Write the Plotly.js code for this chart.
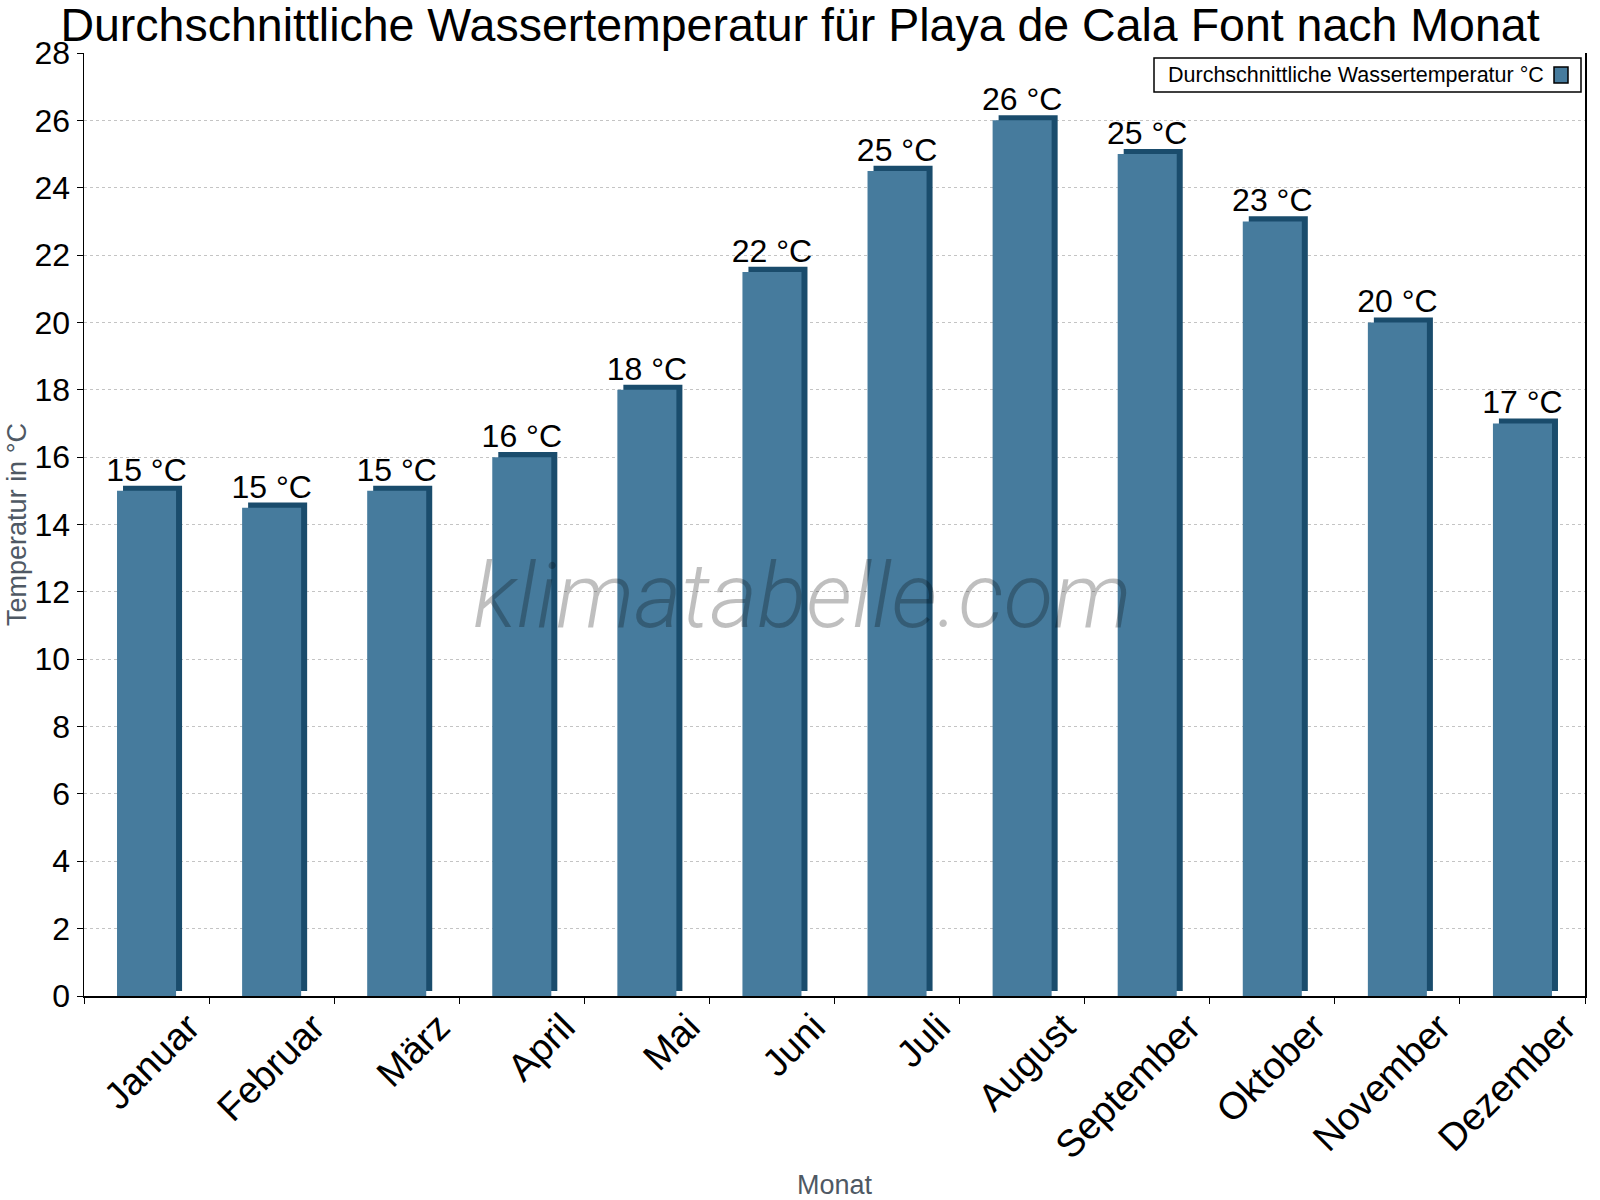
<!DOCTYPE html>
<html>
<head>
<meta charset="utf-8">
<script src="https://cdn.plot.ly/plotly-3.0.1.min.js"></script>
<style>html,body{margin:0;padding:0;background:#fff;}#chart{width:1600px;height:1200px;}</style>
</head>
<body>
<div id="chart"></div>
<script>
const months = ["Januar","Februar","März","April","Mai","Juni","Juli","August","September","Oktober","November","Dezember"];
const waterTemp = [15, 14.5, 15, 16, 18, 21.5, 24.5, 26, 25, 23, 20, 17];
const valueLabels = ["15 °C","15 °C","15 °C","16 °C","18 °C","22 °C","25 °C","26 °C","25 °C","23 °C","20 °C","17 °C"];
const seriesName = "Durchschnittliche Wassertemperatur °C";
const titleText = "Durchschnittliche Wassertemperatur für Playa de Cala Font nach Monat";

const FONT = "Arial, 'Liberation Sans', sans-serif";
const FRONT = "#467B9D";
const DARK = "#1A4C6C";

// plot area in pixels: left 84, right 1585, top 53, bottom 996
const L = 84, R = 1585, T = 53, B = 996;
const px = v => (v - L) / (R - L);
const py = v => (B - v) / (B - T);

const depth = {
  type: "bar", x: months, y: waterTemp, base: 0.15,
  width: 0.472, offset: -0.188,
  marker: {color: DARK, line: {width: 0}},
  hoverinfo: "skip", showlegend: false
};
const front = {
  type: "bar", x: months, y: waterTemp, name: seriesName,
  width: 0.472, offset: -0.236,
  marker: {color: FRONT, line: {width: 0}},
  text: valueLabels, textposition: "outside", constraintext: "none",
  textfont: {family: FONT, size: 32, color: "#000"},
  cliponaxis: false, showlegend: false
};

const layout = {
  width: 1600, height: 1200,
  paper_bgcolor: "#fff", plot_bgcolor: "#fff",
  margin: {l: L, r: 1600 - R, t: T, b: 1200 - B, pad: 0},
  barmode: "overlay",
  font: {family: FONT, color: "#000"},
  title: {text: titleText, font: {family: FONT, size: 46.5, color: "#000"},
          x: 0.5, xanchor: "center", y: 1 - 25/1200, yanchor: "middle", xref: "container", yref: "container"},
  xaxis: {
    type: "category", showline: true, linecolor: "#000", linewidth: 1.5,
    ticks: "outside", tickson: "boundaries", ticklen: 6, tickcolor: "#000",
    tickangle: -45, tickfont: {family: FONT, size: 38, color: "#000"},
    ticklabelshift: 42, ticklabelstandoff: -8,
    showgrid: false, zeroline: false,
    title: {text: "Monat", font: {family: FONT, size: 27, color: "#4F5964"}, standoff: 18}
  },
  yaxis: {
    range: [0, 28], dtick: 2, tick0: 0,
    showline: true, linecolor: "#000", linewidth: 1.5, mirror: true,
    ticks: "outside", ticklen: 6, tickcolor: "#000",
    tickfont: {family: FONT, size: 32, color: "#000"},
    showgrid: true, gridcolor: "#C4C4C4", griddash: "dot", gridwidth: 1,
    zeroline: false,
    title: {text: "Temperatur in °C", font: {family: FONT, size: 27, color: "#4F5964"}, standoff: 0}
  },
  shapes: [
    {type: "rect", xref: "paper", yref: "paper", x0: px(1154), x1: px(1581), y0: py(92), y1: py(58),
     line: {color: "#000", width: 1.5}, fillcolor: "#fff", layer: "above"},
    {type: "rect", xref: "paper", yref: "paper", x0: px(1554), x1: px(1568), y0: py(83), y1: py(67),
     line: {color: "#000", width: 1.5}, fillcolor: FRONT, layer: "above"}
  ],
  annotations: [
    {xref: "paper", yref: "paper", x: px(1166), y: py(75), xanchor: "left", yanchor: "middle",
     text: seriesName, showarrow: false, font: {family: FONT, size: 21.5, color: "#000"}},
    {xref: "paper", yref: "paper", x: px(802), y: py(596), xanchor: "center", yanchor: "middle",
     text: "klimatabelle.com", showarrow: false,
     font: {family: "Roboto, sans-serif", size: 91, weight: 300, style: "italic", color: "rgba(0,0,0,0.25)"}}
  ]
};

Plotly.newPlot("chart", [depth, front], layout, {displayModeBar: false, staticPlot: true});
</script>
</body>
</html>
